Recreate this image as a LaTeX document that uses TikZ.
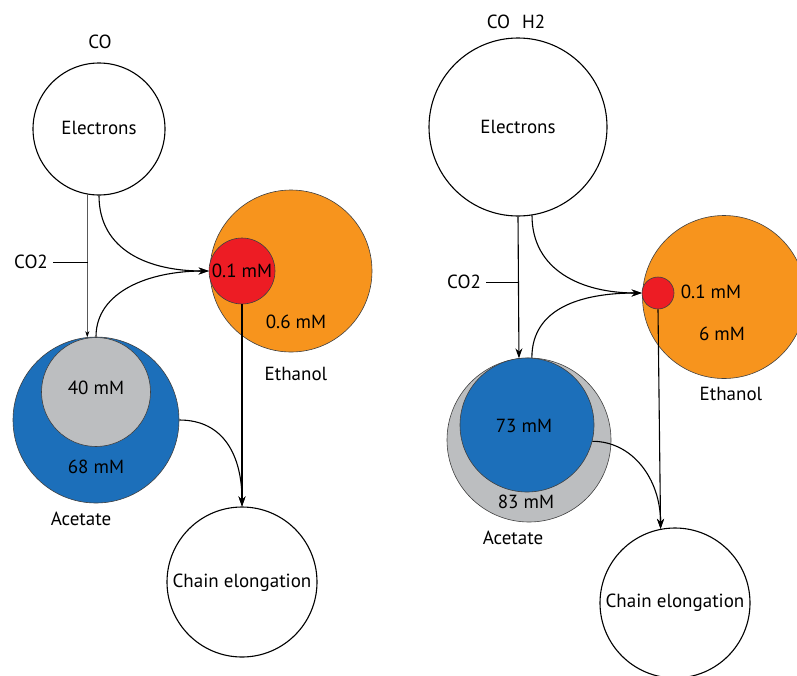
\documentclass[tikz,border=0pt]{standalone}
\usepackage{fontspec}
\setmainfont{PT Sans}
\usetikzlibrary{arrows.meta}
\definecolor{orng}{HTML}{F7941D}
\definecolor{redc}{HTML}{ED1C24}
\definecolor{bluec}{HTML}{1C6FBA}
\definecolor{grayc}{HTML}{BCBEC0}
\begin{document}
\begin{tikzpicture}[x=1pt,y=-1pt,
  circ/.style={circle,draw=black,line width=1.1pt,inner sep=0pt,minimum size=#1},
  pool/.style={circle,draw=black!75,line width=0.6pt,inner sep=0pt,minimum size=#1},
  lbl/.style={font=\fontsize{19}{22}\selectfont,inner sep=0pt},
  flow/.style={line width=1.1pt,-{Stealth[length=10pt,width=7pt]}},
  thinflow/.style={line width=0.6pt,-{Stealth[length=6pt,width=4pt]}},
  plain/.style={line width=0.8pt},
]
\useasboundingbox (0,0) rectangle (797,675);
\clip (0,0) rectangle (797,675);

% ---------------- left panel ----------------
\node[lbl] (coL) at (100,42) {CO};
\node[circ=132pt] (eL) at (99,129) {};
\node[lbl] (eLt) at (99,128) {Electrons};

\node[pool=162pt,fill=orng] (etL) at (291,271) {};
\node[pool=66pt,fill=redc] (redL) at (242,271) {};
\node[lbl] (r1L) at (242,271) {0.1 mM};
\node[lbl] (o1L) at (296,322) {0.6 mM};
\node[lbl] (ethL) at (296,374) {Ethanol};

\node[pool=166pt,fill=bluec] (acL) at (96,420) {};
\node[pool=109pt,fill=grayc] (grL) at (96,392) {};
\node[lbl] (g1L) at (96,388) {40 mM};
\node[lbl] (b1L) at (96,467) {68 mM};
\node[lbl] (acLt) at (81,519) {Acetate};

\node[circ=150pt] (chL) at (242,582) {};
\node[lbl] (chLt) at (242,583) {Chain elongation};

\node[lbl,inner xsep=5pt] (co2L) at (31,262) {CO2};
\coordinate (jL) at (87.5,262);

\draw[thinflow] (eL.260) -- (acL.96);
\draw[line width=0.6pt] (co2L.east) -- (jL);
\draw[flow] (eL.south) .. controls +(0,55) and +(-60,0) .. (redL.west);
\draw[flow] (acL.north) .. controls +(0,-45) and +(-60,0) .. (redL.west);
\draw[flow] (acL.east) .. controls +(45,0) and +(0,-50) .. (chL.north);
\draw[flow] (redL.south) -- (chL.north);

% ---------------- right panel ----------------
\node[lbl] (coR) at (516,22) {CO\hspace{12pt}H2};
\node[circ=178pt] (eR) at (518,127) {};
\node[lbl] (eRt) at (518,127) {Electrons};

\node[pool=163pt,fill=orng] (etR) at (724,297) {};
\node[pool=32pt,fill=redc] (redR) at (658,293) {};
\node[lbl] (r1R) at (711,292) {0.1 mM};
\node[lbl] (o1R) at (722,334) {6 mM};
\node[lbl] (ethR) at (731,394) {Ethanol};

\node[pool=164pt,fill=grayc] (acR) at (529,440) {};
\node[pool=134pt,fill=bluec] (blR) at (527,425) {};
\node[lbl] (b1R) at (524,426) {73 mM};
\node[lbl] (g1R) at (526,502) {83 mM};
\node[lbl] (acRt) at (513,538) {Acetate};

\node[circ=150pt] (chR) at (675,603) {};
\node[lbl] (chRt) at (675,603) {Chain elongation};

\node[lbl,inner xsep=5pt] (co2R) at (464,282) {CO2};
\coordinate (jR) at (518,282);

\draw[flow] (eR.south) -- (acR.97);
\draw[plain] (co2R.east) -- (jR);
\draw[flow] (eR.-81) .. controls +(0,55) and +(-60,0) .. (redR.west);
\draw[flow] (acR.88) .. controls +(0,-50) and +(-60,0) .. (redR.west);
\draw[flow] (blR.-14) .. controls +(40,0) and +(0,-50) .. (chR.101.5);
\draw[flow] (redR.south) -- (chR.101.5);
\end{tikzpicture}
\end{document}
